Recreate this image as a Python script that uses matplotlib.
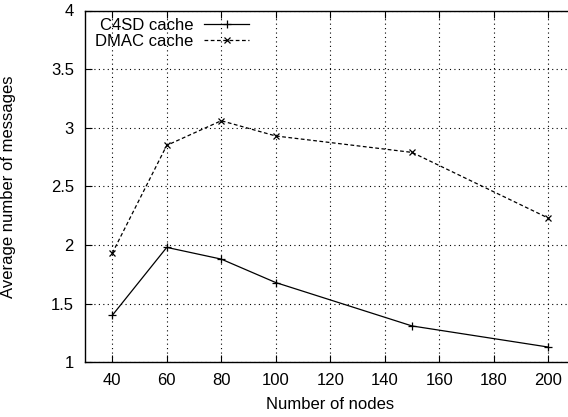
import matplotlib
matplotlib.use("Agg")
import matplotlib.pyplot as plt

plt.rcParams['font.family'] = ['Liberation Sans', 'DejaVu Sans']

# Data
nodes = [40, 60, 80, 100, 150, 200]
c4sd_cache = [1.40, 1.98, 1.88, 1.68, 1.31, 1.13]
dmac_cache = [1.93, 2.85, 3.06, 2.93, 2.79, 2.23]

W, H = 568, 417
fig = plt.figure(figsize=(W / 100, H / 100), dpi=100)
# right spine falls just past the image edge, like the gnuplot original
ax = fig.add_axes([85 / W, (H - 362.3) / H, 490.5 / W, 351.8 / H])

ax.plot(nodes, c4sd_cache, 'k-', lw=0.9, marker='+', ms=6, mew=0.9, label='C4SD cache')
ax.plot(nodes, dmac_cache, 'k--', lw=0.9, dashes=(3, 2), marker='x', ms=4.5, mew=0.9, label='DMAC cache')

ax.set_xlim(30, 210)
ax.set_ylim(1, 4)
ax.set_xticks([40, 60, 80, 100, 120, 140, 160, 180, 200])
ax.set_yticks([1, 1.5, 2, 2.5, 3, 3.5, 4])
ax.set_yticklabels(['1', '1.5', '2', '2.5', '3', '3.5', '4'])
ax.grid(True, color='black', linestyle=(0, (1, 3)), lw=0.8)
ax.tick_params(direction='in', top=True, right=True, labelsize=12, length=5)
ax.tick_params(axis='y', pad=8)
ax.tick_params(axis='x', pad=8)
for s in ax.spines.values():
    s.set_linewidth(1.0)

ax.set_xlabel('Number of nodes', fontsize=12, labelpad=6)
ax.set_ylabel('Average number of messages', fontsize=12)
ax.yaxis.set_label_coords(-69 / 490.5, 0.5)

ax.legend(loc='upper left', bbox_to_anchor=(95 / W, 1 - 18 / H), bbox_transform=fig.transFigure,
          markerfirst=False, frameon=False, fontsize=12, borderpad=0, borderaxespad=0,
          handlelength=2.7, labelspacing=0.05, handletextpad=0.65)

fig.savefig('out.png', dpi=100)
